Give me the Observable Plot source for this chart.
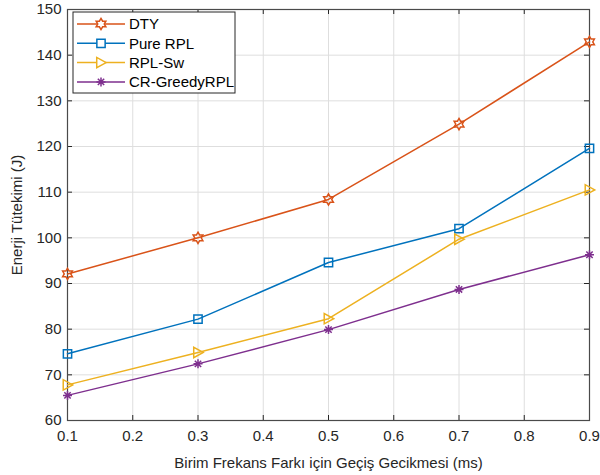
<!DOCTYPE html>
<html>
<head>
<meta charset="utf-8">
<script src="https://cdn.jsdelivr.net/npm/d3@7"></script>
<script src="https://cdn.jsdelivr.net/npm/@observablehq/plot@0.6"></script>
<style>
  html, body { margin: 0; padding: 0; background: #fff; }
  #chart { width: 600px; height: 475px; }
</style>
</head>
<body>
<div id="chart"></div>
<script>
// Switching delay per unit frequency difference (ms)
const delays = [0.1, 0.3, 0.5, 0.7, 0.9];

// Energy consumption (J) for each routing scheme
const dty       = [92.1, 100.0, 108.4, 124.9, 142.9];
const pureRpl   = [74.6, 82.2, 94.6, 102.0, 119.6];
const rplSw     = [67.8, 74.9, 82.3, 99.7, 110.5];
const crGreedy  = [65.5, 72.4, 79.9, 88.7, 96.3];

const seriesNames  = ["DTY", "Pure RPL", "RPL-Sw", "CR-GreedyRPL"];
const seriesValues = [dty, pureRpl, rplSw, crGreedy];
const seriesColors = ["#D95319", "#0072BD", "#EDB120", "#7E2F8E"];

const xTicks = [0.1, 0.2, 0.3, 0.4, 0.5, 0.6, 0.7, 0.8, 0.9];
const yTicks = [60, 70, 80, 90, 100, 110, 120, 130, 140, 150];

const xLabel = "Birim Frekans Farkı için Geçiş Gecikmesi (ms)";
const yLabel = "Enerji Tütekimi (J)";

// Custom marker shapes (outline symbols); radius derived from symbol area
const rad = size => Math.sqrt(size / Math.PI);
const hexagram = {
  draw(ctx, size) {
    const R = rad(size) * 1.25, r0 = R / Math.sqrt(3);
    for (let k = 0; k < 12; ++k) {
      const a = -Math.PI / 2 + k * Math.PI / 6;
      const rr = k % 2 ? r0 : R;
      const px = rr * Math.cos(a), py = rr * Math.sin(a);
      k ? ctx.lineTo(px, py) : ctx.moveTo(px, py);
    }
    ctx.closePath();
  }
};
const square = {
  draw(ctx, size) {
    const h = rad(size) * 0.92;
    ctx.moveTo(-h, -h); ctx.lineTo(h, -h); ctx.lineTo(h, h); ctx.lineTo(-h, h); ctx.closePath();
  }
};
const triangleRight = {
  draw(ctx, size) {
    const r = rad(size);
    ctx.moveTo(r * 1.15, 0); ctx.lineTo(-r * 0.95, -r * 1.15); ctx.lineTo(-r * 0.95, r * 1.15); ctx.closePath();
  }
};
const asterisk = {
  draw(ctx, size) {
    const r = rad(size) * 1.0, d = r * Math.SQRT1_2;
    ctx.moveTo(-r, 0); ctx.lineTo(r, 0);
    ctx.moveTo(0, -r); ctx.lineTo(0, r);
    ctx.moveTo(-d, -d); ctx.lineTo(d, d);
    ctx.moveTo(-d, d); ctx.lineTo(d, -d);
  }
};
const seriesSymbols = [hexagram, square, triangleRight, asterisk];

// Long-format table for the line and dot marks
const rows = seriesNames.flatMap((name, i) =>
  delays.map((x, j) => ({series: name, x, y: seriesValues[i][j]}))
);

const W = 600, H = 475;
const mL = 67, mR = 11, mT = 9, mB = 55;
const frameW = W - mL - mR, frameH = H - mT - mB;
const tickLen = 5;
const textColor = "#262626";

// Legend drawn inside the axes, upper-left corner
function legend(index, scales, values, dims) {
  const g = d3.create("svg:g").attr("text-anchor", "start");
  const x0 = dims.marginLeft + 6, y0 = dims.marginTop + 3;
  const rowH = 19.3, boxW = 162, boxH = 81;
  g.append("rect")
    .attr("x", x0).attr("y", y0).attr("width", boxW).attr("height", boxH)
    .attr("fill", "#fff").attr("stroke", textColor).attr("stroke-width", 1);
  seriesNames.forEach((name, i) => {
    const cy = y0 + 12 + i * rowH;
    g.append("line")
      .attr("x1", x0 + 4).attr("x2", x0 + 52).attr("y1", cy).attr("y2", cy)
      .attr("stroke", seriesColors[i]).attr("stroke-width", 1.5);
    g.append("path")
      .attr("transform", `translate(${x0 + 28},${cy})`)
      .attr("d", d3.symbol(seriesSymbols[i], Math.PI * 4.5 * 4.5)())
      .attr("fill", "#fff").attr("stroke", seriesColors[i]).attr("stroke-width", 1.5);
    g.append("text")
      .attr("x", x0 + 56).attr("y", cy).attr("dy", "0.36em")
      .attr("fill", "#000").attr("font-size", 15)
      .text(name);
  });
  return g.node();
}

const marks = [
  Plot.gridX(xTicks, {stroke: "#dedede", strokeOpacity: 1}),
  Plot.gridY(yTicks, {stroke: "#dedede", strokeOpacity: 1}),
  // inward ticks on all four sides
  Plot.tickX(xTicks, {x: d => d, insetTop: frameH - tickLen, stroke: textColor}),
  Plot.tickX(xTicks, {x: d => d, insetBottom: frameH - tickLen, stroke: textColor}),
  Plot.tickY(yTicks, {y: d => d, insetRight: frameW - tickLen, stroke: textColor}),
  Plot.tickY(yTicks, {y: d => d, insetLeft: frameW - tickLen, stroke: textColor}),
  Plot.axisX(xTicks, {
    tickSize: 0, tickPadding: 10, tickFormat: d3.format(".1f"),
    label: xLabel, labelAnchor: "center", labelArrow: "none", labelOffset: 47,
    fill: textColor
  }),
  Plot.axisY(yTicks, {
    tickSize: 0, tickPadding: 6,
    label: yLabel, labelAnchor: "center", labelArrow: "none", labelOffset: 56,
    fill: textColor
  }),
  Plot.frame({stroke: "#4a4a4a", strokeWidth: 1.2})
];

seriesNames.forEach((name, i) => {
  const data = rows.filter(d => d.series === name);
  marks.push(Plot.line(data, {x: "x", y: "y", stroke: seriesColors[i], strokeWidth: 1.5}));
  marks.push(Plot.dot(data, {
    x: "x", y: "y", r: 4.5, symbol: seriesSymbols[i],
    stroke: seriesColors[i], fill: "none", strokeWidth: 1.5
  }));
});
marks.push(legend);

const chart = Plot.plot({
  width: W, height: H,
  marginLeft: mL, marginRight: mR, marginTop: mT, marginBottom: mB,
  x: {domain: [0.1, 0.9]},
  y: {domain: [60, 150]},
  style: {fontFamily: "'Liberation Sans', Arial, sans-serif", fontSize: "15px", color: textColor, background: "#fff"},
  marks
});
document.getElementById("chart").appendChild(chart);
</script>
</body>
</html>
